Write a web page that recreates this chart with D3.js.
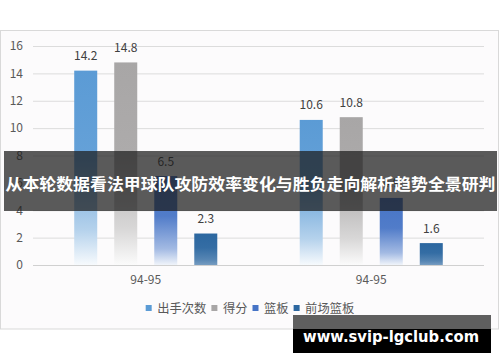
<!DOCTYPE html>
<html>
<head>
<meta charset="utf-8">
<script src="https://cdn.jsdelivr.net/npm/d3@7"></script>
<style>
  html, body { margin: 0; padding: 0; background: #ffffff; }
  svg { display: block; }
  text { font-family: "Noto Sans CJK SC", "Noto Sans", sans-serif; }
</style>
</head>
<body>
<svg id="chart" width="500" height="362"></svg>
<script>
// ---- data ----
const categories = ["94-95", "94-95"];
const seriesNames = ["出手次数", "得分", "篮板", "前场篮板"];
const shotAttempts = [14.2, 10.6];
const points = [14.8, 10.8];
const rebounds = [6.5, 4.9];
const offRebounds = [2.3, 1.6];
const yTicks = [0, 2, 4, 6, 8, 10, 12, 14, 16];
const bannerTitle = "从本轮数据看法甲球队攻防效率变化与胜负走向解析趋势全景研判";
const watermark = "www.svip-lgclub.com";

// ---- styles ----
const colors = ["#5b9bd5", "#a8a6a6", "#4674c6", "#2c67a0"];
const fades = [[0, 0.06, 0.55, 0.95], [0, 0.06, 0.55, 0.95], [0, 0.06, 0.5, 0.92], [0, 0.04, 0.2, 0.35]];

const seriesValues = [shotAttempts, points, rebounds, offRebounds];
const svg = d3.select("#chart");

// frame
svg.append("rect").attr("x", 0.5).attr("y", 30.5).attr("width", 498).attr("height", 298.5)
  .attr("fill", "#fcfbfc").attr("stroke", "#d9d9d9");

const plotLeft = 33, plotRight = 484, plotTop = 46, plotBottom = 265;

const y = d3.scaleLinear().domain([0, 16]).range([plotBottom, plotTop]);
const x0 = d3.scaleBand().domain(d3.range(categories.length)).range([plotLeft, plotRight]).padding(0);
const x1 = d3.scaleBand().domain(d3.range(seriesNames.length)).range([0, x0.bandwidth()])
  .paddingInner(0.425).paddingOuter(1.03);

// gradients
const defs = svg.append("defs");
const mix = (c, t) => d3.interpolateRgb(c, "#ffffff")(t);
colors.forEach((c, i) => {
  const g = defs.append("linearGradient").attr("id", "grad" + i)
    .attr("x1", 0).attr("y1", 0).attr("x2", 0).attr("y2", 1);
  const offs = [0, 0.45, 0.82, 1];
  offs.forEach((o, k) => g.append("stop").attr("offset", o).attr("stop-color", mix(c, fades[i][k])));
});

// y axis + grid
const yAxis = svg.append("g").attr("transform", `translate(${plotLeft},0)`)
  .call(d3.axisLeft(y).tickValues(yTicks).tickSize(-(plotRight - plotLeft)).tickPadding(10));
yAxis.select(".domain").remove();
yAxis.selectAll(".tick line").attr("stroke", d => d === 0 ? "#d0d0d0" : "#dcdcdc");
yAxis.selectAll(".tick text").attr("fill", "#595959").attr("font-size", 12)
  .style("font-family", "'Noto Sans CJK SC', sans-serif");

// x axis
const xAxis = svg.append("g").attr("transform", `translate(0,${plotBottom})`)
  .call(d3.axisBottom(x0).tickSize(0).tickPadding(10).tickFormat(i => categories[i]));
xAxis.select(".domain").remove();
xAxis.selectAll(".tick text").attr("fill", "#595959").attr("font-size", 12)
  .style("font-family", "'Noto Sans CJK SC', sans-serif");

// bars
const groups = svg.append("g").selectAll("g").data(categories.map((c, i) => i)).join("g")
  .attr("transform", i => `translate(${x0(i)},0)`);
groups.selectAll("rect").data(ci => seriesValues.map((vals, si) => ({ si, v: vals[ci] }))).join("rect")
  .attr("x", d => x1(d.si)).attr("width", x1.bandwidth())
  .attr("y", d => y(d.v)).attr("height", d => y(0) - y(d.v))
  .attr("fill", d => `url(#grad${d.si})`);
groups.selectAll("text").data(ci => seriesValues.map((vals, si) => ({ si, v: vals[ci] }))).join("text")
  .attr("x", d => x1(d.si) + x1.bandwidth() / 2).attr("y", d => y(d.v) - 10.5)
  .attr("text-anchor", "middle").attr("font-size", 12).attr("fill", "#404040")
  .text(d => d.v.toFixed(1));

// legend
const legend = svg.append("g");
let lx = 0;
seriesNames.forEach((name, i) => {
  legend.append("rect").attr("x", lx).attr("y", -3).attr("width", 6).attr("height", 6).attr("fill", colors[i]);
  const t = legend.append("text").attr("x", lx + 11.5).attr("y", 0).attr("dominant-baseline", "central")
    .attr("font-size", 12.3).attr("fill", "#595959").text(name);
  lx += 11.5 + t.node().getComputedTextLength() + 5;
});
const legendWidth = lx - 5;
legend.attr("transform", `translate(${250 - legendWidth / 2},308)`);

// banner overlay
svg.append("rect").attr("x", 4).attr("y", 151).attr("width", 493).attr("height", 60)
  .attr("fill", "rgba(28,28,28,0.72)");
svg.append("text").attr("x", 250.5).attr("y", 182.5).attr("text-anchor", "middle")
  .attr("dominant-baseline", "central").attr("font-size", 16).attr("font-weight", "bold")
  .attr("fill", "#ffffff").attr("textLength", 490).attr("lengthAdjust", "spacingAndGlyphs")
  .text(bannerTitle);

// watermark
svg.append("rect").attr("x", 293).attr("y", 315).attr("width", 198).attr("height", 14).attr("fill", "#5f5f5f");
svg.append("rect").attr("x", 293).attr("y", 329).attr("width", 198).attr("height", 24).attr("fill", "#000000");
svg.append("text").attr("x", 303).attr("y", 341.5)
  .attr("font-size", 16).attr("font-weight", "bold").attr("fill", "#ffffff")
  .style("font-family", "'DejaVu Sans', Verdana, sans-serif")
  .attr("textLength", 176).attr("lengthAdjust", "spacingAndGlyphs")
  .text(watermark);
</script>
</body>
</html>
